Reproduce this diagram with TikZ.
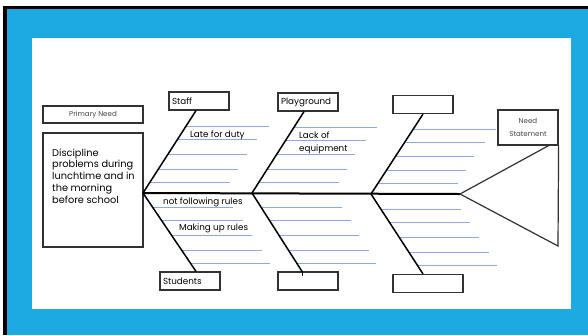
\documentclass[tikz,border=0pt]{standalone}
\usepackage{fontspec}
\setmainfont{Poppins}
\usetikzlibrary{positioning,calc}
\definecolor{frameblue}{RGB}{29,170,226}
\definecolor{ribblue}{RGB}{140,170,218}
\definecolor{boxline}{RGB}{50,50,50}
\definecolor{smalltext}{RGB}{70,70,70}

\begin{document}
\begin{tikzpicture}[x=1bp, y=-1bp,
    catbox/.style={draw=boxline, line width=1.2bp, minimum width=60bp, minimum height=18bp,
        inner xsep=3bp, inner ysep=1bp, text width=54bp, align=left, font=\fontsize{8.8}{10}\selectfont},
    needbox/.style={draw=boxline, line width=1.2bp, minimum width=100bp, minimum height=17bp,
        inner sep=1bp, text=smalltext, font=\fontsize{7.1}{13.5}\selectfont},
    ribtext/.style={inner sep=0pt, align=left, font=\fontsize{8.8}{13}\selectfont},
    bone/.style={line width=1.5bp, black},
    spine/.style={line width=2bp, black},
    rib/.style={line width=0.9bp, ribblue}]

    \useasboundingbox (0,0) rectangle (588,335);
    \fill[black] (3,6) rectangle (588,335);
    \fill[frameblue] (7,9) rectangle (588,335);
    \fill[white] (32,38) rectangle (571,309);

    \node[needbox] (primary) at (93,114.5) {Primary Need};
    \node[draw=boxline, line width=1.2bp, minimum width=100bp, minimum height=114bp] (problem) at (93,190) {};
    \node[ribtext, anchor=north west, font=\fontsize{9.8}{11.8}\selectfont] (problemtext) at (52,148.5) {Discipline\\problems during\\lunchtime and in\\the morning\\before school};

    \node[catbox] (staff) at (199,101) {Staff};
    \node[catbox] (playground) at (308,102) {Playground};
    \node[catbox] (blanktop) at (423,104.5) {};
    \node[catbox] (students) at (190,281) {Students};
    \node[catbox] (blanklow) at (308,281) {};
    \node[catbox, minimum width=70bp, text width=64bp] (blankright) at (428,283.5) {};
    \node[needbox, minimum width=60bp, minimum height=35bp, align=center] (need) at (528,127.5) {Need\\Statement};

    \coordinate (j1) at (143,193);
    \coordinate (j2) at (252,193);
    \coordinate (j3) at (371,194);
    \coordinate (head) at (460,194);
    \coordinate (tail) at (558,246);
    \coordinate (staffT) at ([xshift=-3bp]staff.south);
    \coordinate (playT) at ([xshift=-4bp]playground.south);
    \coordinate (blanktopT) at (blanktop.south);
    \coordinate (studentsT) at ([xshift=6bp]students.north);
    \coordinate (blanklowT) at ([xshift=-6bp]blanklow.north);
    \coordinate (blankrightT) at ([xshift=-5bp]blankright.north);

    \foreach \a/\b in {j1/staffT, j2/playT, j3/blanktopT}
        \foreach \p/\l in {.13/80, .29/80, .47/79, .65/80, .81/83}
            \draw[rib] ($(\a)!\p!(\b)$) -- ++(\l,0);
    \foreach \a/\b in {j1/studentsT, j2/blanklowT, j3/blankrightT}
        \foreach \p/\l in {.19/80, .35/81, .54/80, .73/80, .9/79}
            \draw[rib] ($(\a)!\p!(\b)$) -- ++(\l,0);

    \draw[spine] (j1) -- (head);
    \draw[bone] (j1) -- (staffT);
    \draw[bone] (j2) -- (playT);
    \draw[bone] (j3) -- (blanktopT);
    \draw[bone] (j1) -- (studentsT);
    \draw[bone] (j2) -- (blanklowT);
    \draw[bone] (j3) -- (blankrightT);
    \draw[line width=0.6bp] (blanklowT) -- ++(0,5);
    \draw[line width=1.2bp, boxline] ([xshift=-10bp]need.south east) -- (head) -- (tail) -- (need.south east);

    \node[ribtext, anchor=west] (late) at (190,135.5) {Late for duty};
    \node[ribtext, anchor=north west] (lack) at (299,131.5) {Lack of\\equipment};
    \node[ribtext, anchor=west] (notfollow) at (163,202.5) {not following rules};
    \node[ribtext, anchor=west] (making) at (179,228.5) {Making up rules};
\end{tikzpicture}
\end{document}
